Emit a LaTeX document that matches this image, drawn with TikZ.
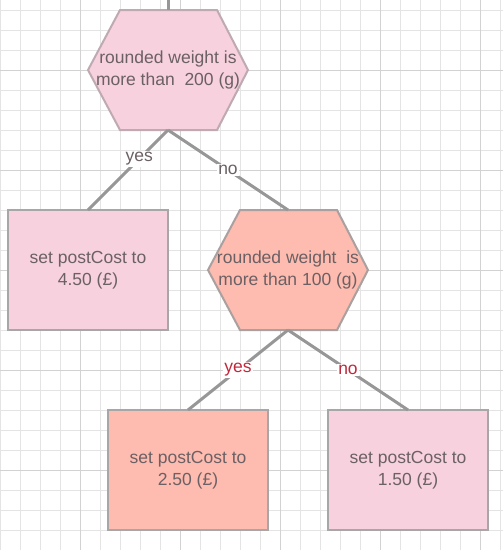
\documentclass[tikz,border=0pt]{standalone}
\usepackage{fontspec}
\setmainfont{Liberation Sans}
\usetikzlibrary{backgrounds}
\pgfdeclarelayer{gridlayer}
\pgfsetlayers{gridlayer,background,main}
\definecolor{pinkfill}{HTML}{F7D1DD}
\definecolor{salmonfill}{HTML}{FEBBAF}
\definecolor{pinkedge}{HTML}{BFAAB3}
\definecolor{salmonedge}{HTML}{A9A09F}
\definecolor{boxedge}{HTML}{A8A6A7}
\definecolor{txt}{HTML}{6B6064}
\definecolor{conn}{HTML}{979797}
\definecolor{redlab}{HTML}{C0293C}
\definecolor{gridminor}{HTML}{E4E4E4}
\definecolor{gridmajor}{HTML}{D2D2D2}
\tikzset{
  textnode/.style={align=center, text=txt, font=\fontsize{17.5}{22}\selectfont, inner sep=0pt, outer sep=0pt,
    minimum width=160pt, minimum height=120pt},
  boxnode/.style={textnode, draw=boxedge, line width=2pt},
  pinkbox/.style={boxnode, fill=pinkfill},
  salmonbox/.style={boxnode, fill=salmonfill},
  hexnode/.style={textnode},
  conn/.style={draw=conn, line width=3pt},
  lab/.style={fill=white, inner sep=1.5pt, font=\fontsize{17.5}{20}\selectfont},
  graylab/.style={lab, text=txt},
  redlabel/.style={lab, text=redlab},
}
\newcommand{\hexpath}[1]{(#1.west) -- ([xshift=32pt]#1.north west) -- ([xshift=-31pt]#1.north east) -- (#1.east) -- ([xshift=-31pt]#1.south east) -- ([xshift=32pt]#1.south west) -- cycle}
\begin{document}
\begin{tikzpicture}[x=1pt, y=-1pt]
\useasboundingbox (0,0) rectangle (503,550);
\begin{pgfonlayer}{gridlayer}
  \fill[white] (0,0) rectangle (503,550);
  \foreach \x in {0,20,...,500} \draw[gridminor, line width=1pt] (\x,0) -- (\x,550);
  \foreach \y in {10,30,...,550} \draw[gridminor, line width=1pt] (0,\y) -- (503,\y);
  \foreach \x in {80,180,...,480} \draw[gridmajor, line width=1pt] (\x,0) -- (\x,550);
  \foreach \y in {70,170,...,470} \draw[gridmajor, line width=1pt] (0,\y) -- (503,\y);
\end{pgfonlayer}

\node[hexnode] (h1) at (168,70) {rounded weight is\\more than\ \ 200 (g)};
\node[hexnode] (h2) at (288,270) {rounded weight\ \ is\\more than 100 (g)};
\node[pinkbox] (b1) at (88,270) {set postCost to\\4.50 (£)};
\node[salmonbox] (b2) at (188,470) {set postCost to\\2.50 (£)};
\node[pinkbox] (b3) at (408,470) {set postCost to\\1.50 (£)};
\coordinate (top) at (168,0);

\begin{pgfonlayer}{background}
  \filldraw[fill=pinkfill, draw=pinkedge, line width=2pt] \hexpath{h1};
  \filldraw[fill=salmonfill, draw=salmonedge, line width=2pt] \hexpath{h2};
\end{pgfonlayer}

\draw[conn] (top) -- (h1.north);
\draw[conn] (h1.south) -- node[graylab, pos=0.36] {yes} (b1.north);
\draw[conn] (h1.south) -- node[graylab, pos=0.5] {no} (h2.north);
\draw[conn] (h2.south) -- node[redlabel, pos=0.5] {yes} (b2.north);
\draw[conn] (h2.south) -- node[redlabel, pos=0.5] {no} (b3.north);
\end{tikzpicture}
\end{document}
